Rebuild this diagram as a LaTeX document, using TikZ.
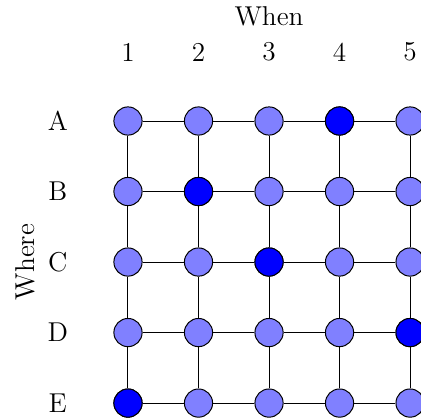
\documentclass[tikz,border=0pt]{standalone}
\usepackage{tikz}
\begin{document}
\begin{tikzpicture}[x=1cm,y=-1cm,
  dot/.style={circle,draw=black,fill=blue!50,minimum size=0.4cm,inner sep=0pt},
  hot/.style={dot,fill=blue},
  lbl/.style={font=\fontsize{11}{13}\selectfont,inner sep=0pt},
  edge/.style={draw=black}]
\useasboundingbox (0,0) rectangle (5.97,5.93);
\node[lbl] (when) at (3.815,0.23) {When};
\node[lbl,rotate=90] (where) at (0.36,3.716) {Where};
\foreach \c [count=\i] in {1,2,3,4,5}{
  \node[lbl] (col\i) at ({0.815+\i},0.74) {\c};
}
\foreach \r [count=\j] in {A,B,C,D,E}{
  \node[lbl] (row\j) at (0.82,{0.716+\j}) {\r};
  \foreach \i in {1,...,5}{
    \node[dot] (n\j\i) at ({0.815+\i},{0.716+\j}) {};
  }
}
\node[hot] at (n14) {};
\node[hot] at (n22) {};
\node[hot] at (n33) {};
\node[hot] at (n45) {};
\node[hot] at (n51) {};
\foreach \j in {1,...,5}{
  \foreach \i/\k in {1/2,2/3,3/4,4/5}{
    \draw[edge] (n\j\i) -- (n\j\k);
  }
}
\foreach \i in {1,...,5}{
  \foreach \j/\k in {1/2,2/3,3/4,4/5}{
    \draw[edge] (n\j\i) -- (n\k\i);
  }
}
\end{tikzpicture}
\end{document}
